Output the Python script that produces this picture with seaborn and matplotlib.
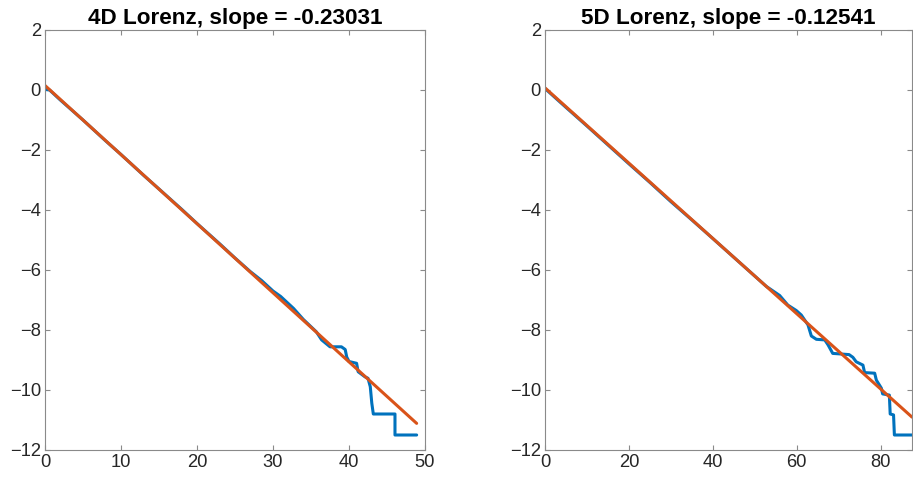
import numpy as np
import pandas as pd
import matplotlib
matplotlib.use("Agg")
import matplotlib.pyplot as plt
import seaborn as sns

# ---- data ----
titles = ["4D Lorenz, slope = -0.23031", "5D Lorenz, slope = -0.12541"]

x4 = [0, 0.6, 2, 5, 8, 10, 13, 15, 18, 20, 23, 25, 27, 28.5, 30, 31, 32.7, 34,
      35.7, 36.4, 37.5, 39.0, 39.5, 39.7, 40.0, 41.0, 41.2, 42.1, 42.5, 42.8,
      43.0, 43.2, 46.05, 46.05, 48.9]
y4 = [0.02, 0.0, -0.33, -1.0, -1.7, -2.15, -2.85, -3.3, -3.98, -4.45, -5.13,
      -5.6, -6.05, -6.35, -6.7, -6.88, -7.28, -7.65, -8.06, -8.33, -8.56, -8.56,
      -8.65, -8.9, -9.05, -9.11, -9.39, -9.56, -9.61, -9.89, -10.44, -10.8,
      -10.8, -11.5, -11.5]

x5 = [0, 5, 10, 15, 20, 25, 30, 35, 40, 44, 48, 52.8, 55.95, 57.9, 59.9, 61.1,
      62.7, 63.5, 64.7, 66.7, 67.5, 68.6, 70.6, 72.5, 73.4, 74.2, 75.8, 76.2,
      78.6, 79.0, 80.2, 80.5, 82.1, 82.3, 83.1, 83.3, 87.5]
y5 = [0.05, -0.58, -1.2, -1.83, -2.46, -3.08, -3.72, -4.33, -4.95, -5.45,
      -5.95, -6.55, -6.85, -7.17, -7.35, -7.5, -7.83, -8.2, -8.31, -8.33, -8.5,
      -8.78, -8.8, -8.82, -8.91, -9.06, -9.17, -9.42, -9.44, -9.67, -9.94,
      -10.13, -10.17, -10.8, -10.83, -11.5, -11.5]

slopes = [-0.23031, -0.12541]
intercepts = [0.15, 0.07]
fit_x_end = [48.9, 87.5]

xlims = [(0, 50), (0, 87.5)]
xticks = [[0, 10, 20, 30, 40, 50], [0, 20, 40, 60, 80]]
yticks = [-12, -10, -8, -6, -4, -2, 0, 2]

# ---- styling ----
sns.set_style("white")
plt.rcParams["font.family"] = ["Liberation Sans", "DejaVu Sans"]

BLUE = "#0072BD"
ORANGE = "#D95319"
SPINE = "#8a8a8a"
TEXT = "#262626"

fig = plt.figure(figsize=(9.13, 4.80), dpi=100)
positions = [[45 / 913, 30 / 480, 380 / 913, 420 / 480],
             [545 / 913, 30 / 480, 367 / 913, 420 / 480]]

datasets = [(x4, y4), (x5, y5)]
for i in range(2):
    ax = fig.add_axes(positions[i])
    xs, ys = datasets[i]
    df = pd.DataFrame({"x": xs, "y": ys})
    sns.lineplot(data=df, x="x", y="y", ax=ax, color=BLUE, linewidth=2.2,
                 sort=False, estimator=None)
    fx = np.array([0.0, fit_x_end[i]])
    fit = pd.DataFrame({"x": fx, "y": intercepts[i] + slopes[i] * fx})
    sns.lineplot(data=fit, x="x", y="y", ax=ax, color=ORANGE, linewidth=2.2,
                 sort=False, estimator=None)
    ax.set_xlim(*xlims[i])
    ax.set_ylim(-12, 2)
    ax.set_xticks(xticks[i])
    ax.set_yticks(yticks)
    ax.set_xlabel("")
    ax.set_ylabel("")
    ax.set_title(titles[i], fontsize=16.2, fontweight="bold", color="black", pad=4)
    for s in ax.spines.values():
        s.set_visible(True)
        s.set_color(SPINE)
        s.set_linewidth(0.8)
    ax.tick_params(direction="in", length=3.5, width=0.8, color=SPINE,
                   labelsize=13.2, labelcolor=TEXT, top=True, right=True,
                   bottom=True, left=True, pad=3)

fig.savefig("out.png", dpi=100)
